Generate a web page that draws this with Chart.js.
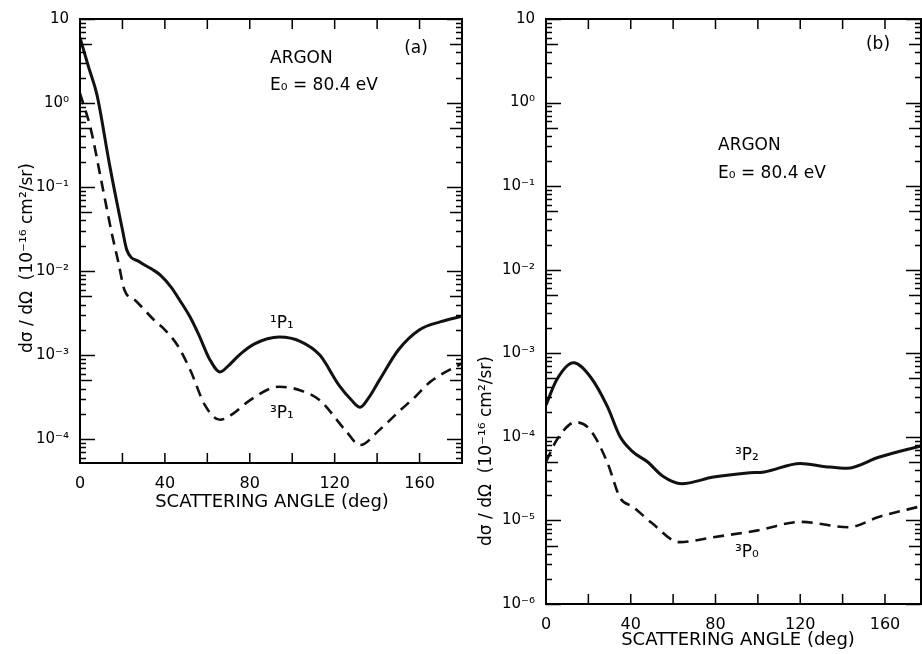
<!DOCTYPE html>
<html>
<head>
<meta charset="utf-8">
<script src="https://cdn.jsdelivr.net/npm/chart.js@4.4.1/dist/chart.umd.min.js"></script>
<style>
  html, body { margin: 0; padding: 0; background: #fff; overflow: hidden; }
  canvas { position: absolute; top: 0; }
  #chartA { left: 0; }
  #chartB { left: 470px; }
</style>
</head>
<body>
<canvas id="chartA" width="470" height="530"></canvas>
<canvas id="chartB" width="452" height="654"></canvas>
<script>
// panel (a): 1P1 and 3P1
const angleA1 = [0, 4, 8, 14, 20, 22, 28, 34, 38, 43, 47, 52, 56, 61, 66, 70, 75, 82, 94, 104, 113, 122, 128, 132, 136, 141, 150, 160, 170, 180];
const sigma1P1 = [6.0, 2.7, 1.25, 0.18, 0.031, 0.018, 0.0129, 0.0105, 0.0089, 0.0064, 0.0045, 0.0028, 0.00174, 0.0009, 0.00063, 0.00075, 0.001, 0.00135, 0.00164, 0.00145, 0.001, 0.00044, 0.00029, 0.00024, 0.00031, 0.0005, 0.00115, 0.002, 0.0025, 0.0029];
const angleA3 = [0, 5, 10, 15, 18, 21, 26, 35, 40, 46, 52, 59, 66, 72, 80, 94, 104, 113, 125, 132, 141, 150, 158, 165, 180];
const sigma3P1 = [1.3, 0.5, 0.12, 0.028, 0.013, 0.0059, 0.0045, 0.0026, 0.002, 0.0013, 0.00066, 0.00025, 0.00017, 0.0002, 0.00029, 0.00042, 0.00038, 0.00029, 0.000128, 0.000085, 0.000128, 0.00021, 0.00032, 0.00048, 0.0008];

// panel (b): 3P2 and 3P0
const angleB2 = [0, 5, 13, 21, 29, 35, 41, 48, 55, 64, 79, 95, 103, 120, 132, 142, 157, 177];
const sigma3P2 = [0.00024, 0.00048, 0.00077, 0.00052, 0.00023, 0.0001, 0.000066, 0.00005, 0.000034, 0.0000275, 0.000033, 0.000037, 0.000038, 0.000048, 0.000044, 0.000042, 0.000057, 0.000078];
const angleB0 = [0, 5, 14, 21, 29, 35, 41, 50, 63, 79, 100, 120, 143, 157, 177];
const sigma3P0 = [0.00005, 0.000091, 0.00015, 0.00012, 0.000049, 0.0000186, 0.0000146, 0.0000093, 0.0000055, 0.0000063, 0.0000076, 0.0000096, 0.0000083, 0.000011, 0.0000148];

const xTicks = [0, 40, 80, 120, 160];
const yTicksA = [1e-4, 1e-3, 1e-2, 1e-1, 1, 10];
const yLabelsA = ['10⁻⁴', '10⁻³', '10⁻²', '10⁻¹', '10⁰', '10'];
const yTicksB = [1e-6, 1e-5, 1e-4, 1e-3, 1e-2, 1e-1, 1, 10];
const yLabelsB = ['10⁻⁶', '10⁻⁵', '10⁻⁴', '10⁻³', '10⁻²', '10⁻¹', '10⁰', '10'];

const yTitle = 'dσ / dΩ  (10⁻¹⁶ cm²/sr)';
const xTitle = 'SCATTERING ANGLE (deg)';

Chart.defaults.font.family = 'DejaVu Sans';
Chart.defaults.color = '#000';

function pts(xs, ys) {
    return xs.map((a, i) => ({ x: a, y: ys[i] }));
}

// frame with inward ticks on all four sides, plus the text notes
const framePlugin = {
    id: 'frame',
    afterDraw(chart, args, opts) {
        const ctx = chart.ctx;
        const a = chart.chartArea;
        const x = chart.scales.x, y = chart.scales.y;
        ctx.save();
        ctx.strokeStyle = '#000';
        ctx.lineWidth = 2;
        ctx.strokeRect(a.left, a.top, a.right - a.left, a.bottom - a.top);

        ctx.lineWidth = 1.5;
        ctx.beginPath();
        for (let v = 20; v < x.max; v += 20) {
            const px = x.getPixelForValue(v);
            ctx.moveTo(px, a.bottom); ctx.lineTo(px, a.bottom - 10);
            ctx.moveTo(px, a.top); ctx.lineTo(px, a.top + 10);
        }
        const d0 = Math.floor(Math.log10(y.min)), d1 = Math.ceil(Math.log10(y.max));
        for (let d = d0; d <= d1; d++) {
            for (let m = 1; m <= 9; m++) {
                const v = m * Math.pow(10, d);
                if (v < y.min * 0.999 || v > y.max * 1.001) continue;
                const py = Math.round(y.getPixelForValue(v)) + 0.5;
                const len = m === 1 ? 15 : (m === 5 ? 12 : 6);
                ctx.moveTo(a.left, py); ctx.lineTo(a.left + len, py);
                ctx.moveTo(a.right, py); ctx.lineTo(a.right - len, py);
            }
        }
        ctx.stroke();

        ctx.fillStyle = '#000';
        (opts.notes || []).forEach(n => {
            ctx.save();
            ctx.font = (n.size || 17) + 'px "DejaVu Sans"';
            ctx.textAlign = n.align || 'left';
            ctx.textBaseline = n.baseline || 'alphabetic';
            ctx.translate(n.x, n.y);
            if (n.rotate) ctx.rotate(n.rotate * Math.PI / 180);
            ctx.fillText(n.text, 0, 0);
            ctx.restore();
        });
        ctx.restore();
    }
};

function makeChart(id, cfg) {
    return new Chart(document.getElementById(id), {
        type: 'line',
        data: {
            datasets: [
                { data: cfg.solid, borderColor: '#111', borderWidth: 3, pointRadius: 0, cubicInterpolationMode: 'monotone', fill: false },
                { data: cfg.dashed, borderColor: '#111', borderWidth: 2.6, borderDash: [11, 7], pointRadius: 0, cubicInterpolationMode: 'monotone', fill: false }
            ]
        },
        options: {
            responsive: false,
            animation: false,
            devicePixelRatio: 1,
            layout: { padding: cfg.padding },
            plugins: {
                legend: { display: false },
                tooltip: { enabled: false },
                frame: { notes: cfg.notes }
            },
            scales: {
                x: {
                    type: 'linear',
                    min: 0,
                    max: cfg.xMax,
                    grid: { display: false },
                    border: { display: false },
                    afterBuildTicks: s => { s.ticks = xTicks.map(v => ({ value: v })); },
                    afterFit: s => { s.height = cfg.xHeight; },
                    ticks: { font: { size: 16 }, padding: 3, maxRotation: 0, callback: v => String(v) }
                },
                y: {
                    type: 'logarithmic',
                    min: cfg.yMin,
                    max: 10,
                    grid: { display: false },
                    border: { display: false },
                    afterBuildTicks: s => { s.ticks = cfg.yTicks.map(v => ({ value: v })); },
                    afterFit: s => { s.width = cfg.yWidth; },
                    ticks: { font: { size: 15 }, padding: 3, callback: (v, i) => cfg.yLabels[i] }
                }
            }
        },
        plugins: [framePlugin]
    });
}

makeChart('chartA', {
    solid: pts(angleA1, sigma1P1),
    dashed: pts(angleA3, sigma3P1),
    xMax: 180,
    yMin: 5.2e-5,
    yTicks: yTicksA,
    yLabels: yLabelsA,
    yWidth: 80,
    xHeight: 67,
    padding: { top: 19, right: 8, left: 0, bottom: 0 },
    notes: [
        { text: 'ARGON', x: 270, y: 63 },
        { text: 'E₀ = 80.4 eV', x: 270, y: 90 },
        { text: '(a)', x: 416, y: 49, align: 'center', baseline: 'middle' },
        { text: '¹P₁', x: 270, y: 328 },
        { text: '³P₁', x: 270, y: 418 },
        { text: xTitle, x: 272, y: 502, align: 'center', baseline: 'middle', size: 18 },
        { text: yTitle, x: 28, y: 258, align: 'center', baseline: 'middle', rotate: -90 }
    ]
});

makeChart('chartB', {
    solid: pts(angleB2, sigma3P2),
    dashed: pts(angleB0, sigma3P0),
    xMax: 177,
    yMin: 1e-6,
    yTicks: yTicksB,
    yLabels: yLabelsB,
    yWidth: 76,
    xHeight: 50,
    padding: { top: 19, right: 1, left: 0, bottom: 0 },
    notes: [
        { text: 'ARGON', x: 248, y: 150 },
        { text: 'E₀ = 80.4 eV', x: 248, y: 178 },
        { text: '(b)', x: 408, y: 45, align: 'center', baseline: 'middle' },
        { text: '³P₂', x: 265, y: 460 },
        { text: '³P₀', x: 265, y: 557 },
        { text: xTitle, x: 268, y: 640, align: 'center', baseline: 'middle', size: 18 },
        { text: yTitle, x: 17, y: 451, align: 'center', baseline: 'middle', rotate: -90 }
    ]
});
</script>
</body>
</html>
